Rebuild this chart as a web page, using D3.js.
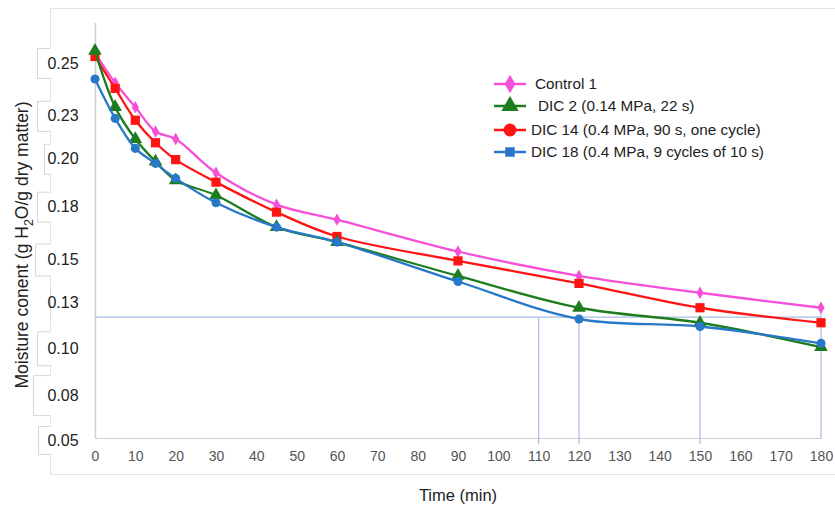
<!DOCTYPE html>
<html><head><meta charset="utf-8">
<script src="https://cdn.jsdelivr.net/npm/d3@7"></script>
<style>html,body{margin:0;padding:0;background:#fff;}svg{display:block;font-family:"Liberation Sans",Arial,sans-serif;}</style>
</head><body><svg id="c" width="835" height="508"></svg>
<script>
const timeMin = [0, 5, 10, 15, 20, 30, 45, 60, 90, 120, 150, 180];
const control1 = [0.256, 0.240, 0.227, 0.214, 0.210, 0.192, 0.175, 0.167, 0.150, 0.137, 0.128, 0.120];
const dic2     = [0.257, 0.227, 0.210, 0.198, 0.188, 0.180, 0.163, 0.155, 0.137, 0.120, 0.112, 0.099];
const dic14    = [0.254, 0.237, 0.220, 0.208, 0.199, 0.187, 0.171, 0.158, 0.145, 0.133, 0.120, 0.112];
const dic18    = [0.242, 0.221, 0.205, 0.197, 0.189, 0.176, 0.163, 0.155, 0.134, 0.114, 0.110, 0.101];
const seriesNames = ["Control 1", "DIC 2 (0.14 MPa, 22 s)", "DIC 14 (0.4 MPa, 90 s, one cycle)", "DIC 18 (0.4 MPa, 9 cycles of 10 s)"];
const xTickValues = [0,10,20,30,40,50,60,70,80,90,100,110,120,130,140,150,160,170,180];
const yTickValues = [0.05, 0.075, 0.10, 0.125, 0.15, 0.175, 0.20, 0.225, 0.25];
const yTickLabels = ["0.05", "0.08", "0.10", "0.13", "0.15", "0.18", "0.20", "0.23", "0.25"];
const refLevel = 0.115;
const refTimes = [110, 120, 150];
const refEndTime = 180;
const refEndValue = 0.120;

const svg = d3.select("#c");
const x = d3.scaleLinear().domain([0, 180]).range([95, 821]);
const y = d3.scaleLinear().domain([0.05, 0.25]).range([439, 64]);
const plotTop = 23, plotBottom = 438;

// outer light frame
const frame = "#e4e4e4";
svg.append("line").attr("x1",50).attr("x2",835).attr("y1",8.5).attr("y2",8.5).attr("stroke",frame);
svg.append("line").attr("x1",50).attr("x2",835).attr("y1",474.5).attr("y2",474.5).attr("stroke",frame);
svg.append("line").attr("x1",50.5).attr("x2",50.5).attr("y1",8).attr("y2",474).attr("stroke",frame);

// y tick label boxes (staggered, as in the source image)
const boxLeft = [38, 33, 37, 50, 35, 37, 44, 37, 37];
const boxH = [28, 40, 34, 26, 32, 30, 30, 30, 30];
const labelNudge = [1, 3, 3, 4, 8, 2, 1, 5, -1];
yTickValues.forEach((v,i)=>{
  const cy = y(v) + labelNudge[i], l = boxLeft[i], h = boxH[i];
  svg.append("rect").attr("x",l).attr("y",cy-h/2).attr("width",46).attr("height",h).attr("fill","#fff");
  svg.append("path").attr("d",`M50.5,${cy-h/2+0.5}H${l+0.5}V${cy+h/2+0.5}H50.5`).attr("fill","none").attr("stroke","#d6d6d6");
  svg.append("text").attr("x",63).attr("y",cy).attr("dy","0.35em").attr("text-anchor","middle")
    .attr("font-size",16).attr("fill","#222").text(yTickLabels[i]);
});

// axis lines
svg.append("line").attr("x1",95.5).attr("x2",95.5).attr("y1",plotTop).attr("y2",plotBottom).attr("stroke","#cfcfcf").attr("stroke-width",1.5);
svg.append("line").attr("x1",95).attr("x2",821).attr("y1",plotBottom+0.5).attr("y2",plotBottom+0.5).attr("stroke","#cfcfcf").attr("stroke-width",1.2);

// x axis labels
const xa = svg.append("g").attr("transform",`translate(0,${plotBottom})`)
  .call(d3.axisBottom(x).tickValues(xTickValues).tickSize(0).tickPadding(13).tickFormat(d3.format("d")));
xa.select(".domain").remove();
xa.selectAll("text").attr("font-size",14).attr("fill","#555").attr("font-family","'Liberation Sans',Arial,sans-serif");

// reference lines
const refColor = "#a9bde3";
svg.append("line").attr("x1",x(0)).attr("x2",x(180)).attr("y1",y(refLevel)).attr("y2",y(refLevel)).attr("stroke",refColor).attr("stroke-width",1.2);
refTimes.forEach(t=>{
  svg.append("line").attr("x1",x(t)).attr("x2",x(t)).attr("y1",y(refLevel)).attr("y2",plotBottom+6).attr("stroke",refColor).attr("stroke-width",1.2);
});
svg.append("line").attr("x1",x(refEndTime)).attr("x2",x(refEndTime)).attr("y1",y(refEndValue)).attr("y2",plotBottom+1).attr("stroke",refColor).attr("stroke-width",1.2);

// series
const colors = ["#f64fd8", "#1d7d1d", "#ff1414", "#2779c8"];
const data = [control1, dic2, dic14, dic18];
const line = d3.line().x((d,i)=>x(timeMin[i])).y(d=>y(d)).curve(d3.curveCatmullRom.alpha(0.5));

function marker(g, kind, cx, cy, color, s) {
  const types = {diamond: d3.symbolDiamond, triangle: d3.symbolTriangle, square: d3.symbolSquare, circle: d3.symbolCircle};
  g.append("path").attr("d", d3.symbol().type(types[kind]).size(s)()).attr("transform",`translate(${cx},${cy})`).attr("fill",color);
}
const kinds = ["diamond","triangle","square","circle"];
const sizes = [45, 80, 85, 65];
const order = [0, 2, 1, 3];
order.forEach(k=>{
  const g = svg.append("g");
  g.append("path").attr("d", line(data[k])).attr("fill","none").attr("stroke",colors[k]).attr("stroke-width",2.3);
  data[k].forEach((v,i)=>marker(g, kinds[k], x(timeMin[i]), y(v), colors[k], sizes[k]));
});

// legend
const legY = [84, 106, 130, 152];
const legText = [535, 538, 531, 531];
const legKinds = ["diamond","triangle","circle","square"];
const legSizes = [100, 130, 130, 90];
seriesNames.forEach((n,i)=>{
  const g = svg.append("g");
  g.append("line").attr("x1",494).attr("x2",526).attr("y1",legY[i]).attr("y2",legY[i]).attr("stroke",colors[i]).attr("stroke-width",2.5);
  marker(g, legKinds[i], 510, legY[i], colors[i], legSizes[i]);
  g.append("text").attr("x",legText[i]).attr("y",legY[i]).attr("dy","0.35em").attr("font-size",15.3).attr("fill","#222").text(n);
});

// axis titles
svg.append("text").attr("x",458).attr("y",495).attr("dy","0.35em").attr("text-anchor","middle").attr("font-size",16.5).attr("fill","#222").text("Time (min)");
const yt = svg.append("text").attr("transform","translate(22,245) rotate(-90)").attr("text-anchor","middle").attr("dy","0.35em").attr("font-size",17.5).attr("fill","#222");
yt.append("tspan").text("Moisture conent (g H");
yt.append("tspan").attr("font-size",12.5).attr("dy","5").text("2");
yt.append("tspan").attr("dy","-5").text("O/g dry matter)");
</script></body></html>
